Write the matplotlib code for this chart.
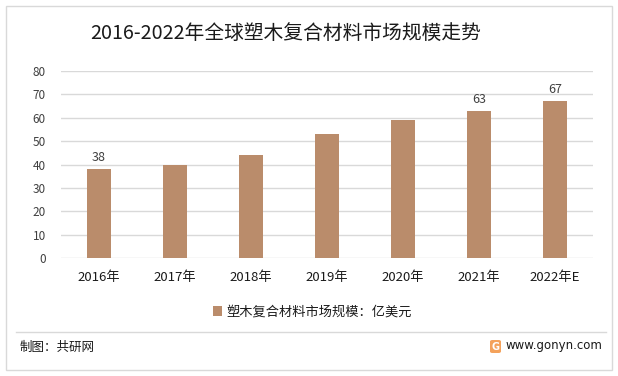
import matplotlib
matplotlib.use('Agg')
import matplotlib.pyplot as plt
from matplotlib.patches import Rectangle, FancyBboxPatch
from matplotlib.lines import Line2D

plt.rcParams['font.family'] = ['Noto Sans CJK SC', 'DejaVu Sans']

years = ['2016年', '2017年', '2018年', '2019年', '2020年', '2021年', '2022年E']
market_size = [38, 40, 44, 53, 59, 63, 67]
labelled = [0, 5, 6]
y_ticks = [0, 10, 20, 30, 40, 50, 60, 70, 80]

W, H = 618, 376
bar_color = '#BA8C6B'
grid_color = '#D9D9D9'
text_color = '#404040'

fig = plt.figure(figsize=(W / 100, H / 100), dpi=100)
fig.patch.set_facecolor('white')


def px(x0, y0, x1, y1):
    # pixel box (top-left origin) -> figure fraction rect
    return [x0 / W, 1 - y1 / H, (x1 - x0) / W, (y1 - y0) / H]


# outer frame and panel separator
fig.patches.append(Rectangle((6 / W, 1 - 370 / H), 606 / W, 364 / H,
                             transform=fig.transFigure, fill=False,
                             edgecolor=grid_color, linewidth=1))
fig.lines.append(Line2D([16 / W, 606 / W], [1 - 332 / H, 1 - 332 / H],
                        transform=fig.transFigure, color=grid_color, linewidth=1))

ax = fig.add_axes(px(61, 71, 593, 258))
x = list(range(len(years)))
bars = ax.bar(x, market_size, width=0.32, color=bar_color, zorder=3,
              label='塑木复合材料市场规模：亿美元')
for i in labelled:
    ax.text(i, market_size[i] + 2.2, str(market_size[i]), ha='center', va='bottom',
            fontsize=9, color=text_color)

ax.set_xlim(-0.5, len(years) - 0.5)
ax.set_ylim(0, 80)
ax.set_yticks(y_ticks)
ax.set_yticklabels([str(v) for v in y_ticks], fontsize=8.5, color=text_color)
ax.set_xticks(x)
ax.set_xticklabels(years, fontsize=9.5, color='#1a1a1a')
ax.tick_params(axis='both', length=0)
ax.tick_params(axis='y', pad=11)
ax.tick_params(axis='x', pad=9)
ax.grid(axis='y', color=grid_color, linewidth=1, zorder=0)
for s in ax.spines.values():
    s.set_visible(False)

fig.text(90 / W, 1 - 33 / H, '2016-2022年全球塑木复合材料市场规模走势',
         fontsize=14.2, color='#1a1a1a', va='center', ha='left')

ax.legend(loc='center', bbox_to_anchor=(0.472, -(312 - 258) / (258 - 71)),
          frameon=False, fontsize=9.5, handlelength=0.7, handleheight=0.7,
          handletextpad=0.3, labelcolor='#1a1a1a')

fig.text(20 / W, 1 - 347 / H, '制图：共研网', fontsize=9, color='#1a1a1a', va='center')
fig.text(506 / W, 1 - 346 / H, 'www.gonyn.com', fontsize=8.5, color='#1a1a1a',
         va='center', family=['DejaVu Sans'])
fig.patches.append(FancyBboxPatch((490 / W, 1 - 353 / H), 11 / W, 13 / H,
                                  boxstyle='round,pad=0,rounding_size=0.004',
                                  transform=fig.transFigure, facecolor='#F4A25B',
                                  edgecolor='none'))
fig.text(495.5 / W, 1 - 346.5 / H, 'G', fontsize=7, color='white', weight='bold',
         ha='center', va='center', family=['DejaVu Sans'])

fig.savefig('out.png', dpi=100, facecolor='white')
